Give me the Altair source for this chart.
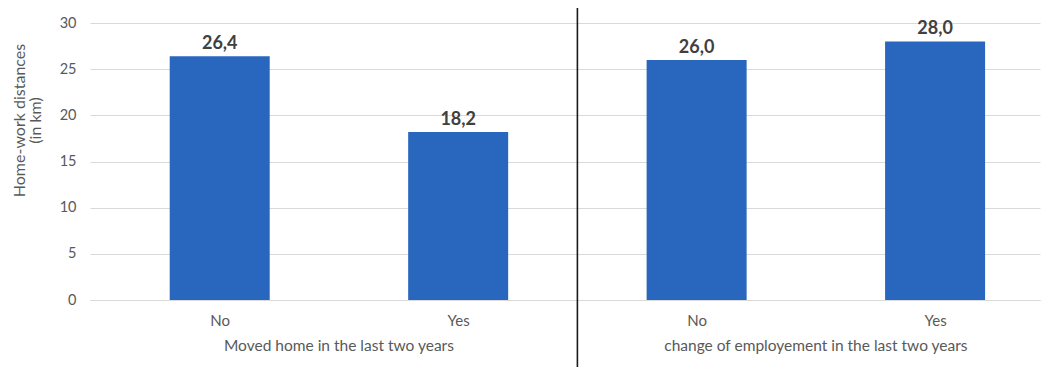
import altair as alt
import pandas as pd

# Mean home-work distance (km) by group and answer
groups = ["Moved home in the last two years", "Moved home in the last two years",
          "change of employement in the last two years", "change of employement in the last two years"]
answers = ["No", "Yes", "No", "Yes"]
slots = [0, 1, 2, 3]
distances = [26.4, 18.2, 26.0, 28.0]

group_names = ["Moved home in the last two years", "change of employement in the last two years"]
group_centers = [0.5, 2.5]
divider_at = [1.5]

df = pd.DataFrame({"slot": slots, "answer": answers, "group": groups, "dist": distances})
df["label"] = df["dist"].map(lambda v: f"{v:.1f}".replace(".", ","))
group_df = pd.DataFrame({"pos": group_centers, "group": group_names})
div_df = pd.DataFrame({"pos": divider_at})

W, H = 950, 277
FONT = "Lato"
GREY = "#595959"
BLUE = "#2966BE"

x_scale = alt.Scale(domain=[-0.523, 3.419], nice=False, zero=False)

x_enc = alt.X(
    "slot:Q", scale=x_scale, title=None,
    axis=alt.Axis(values=slots, labelExpr="['No','Yes','No','Yes'][datum.value]",
                  labelAngle=0, ticks=False, grid=False,
                  domainColor="#D9D9D9", labelPadding=13, labelFontSize=15,
                  labelColor=GREY, labelFont=FONT, labelFlush=False),
)
y_enc = alt.Y(
    "dist:Q", scale=alt.Scale(domain=[0, 30], nice=False),
    title=["Home-work distances", "(in km)"],
    axis=alt.Axis(values=[0, 5, 10, 15, 20, 25, 30], domain=False, ticks=False,
                  gridColor="#D9D9D9", labelPadding=14, labelFontSize=14.5,
                  labelColor=GREY, labelFont=FONT, titleFont=FONT, titleFontSize=16,
                  titleColor=GREY, titleFontWeight="normal", titlePadding=16,
                  titleLineHeight=16, titleY=97),
)

base = alt.Chart(df)

bars = base.mark_bar(color=BLUE, size=100).encode(x=x_enc, y=y_enc)

values = base.mark_text(dy=-12, fontSize=18, fontWeight="bold", color="#404040", font=FONT).encode(
    x=alt.X("slot:Q", scale=x_scale),
    y=alt.Y("dist:Q"),
    text="label:N",
)

group_titles = alt.Chart(group_df).mark_text(fontSize=15.5, color=GREY, font=FONT, baseline="middle").encode(
    x=alt.X("pos:Q", scale=x_scale),
    y=alt.value(H + 46),
    text="group:N",
)

separator = alt.Chart(div_df).mark_rule(color="#1a1a1a", strokeWidth=1.6).encode(
    x=alt.X("pos:Q", scale=x_scale),
    y=alt.value(-15),
    y2=alt.value(H + 67),
)

chart = alt.layer(bars, values, group_titles, separator).properties(
    width=W, height=H,
    autosize=alt.AutoSizeParams(type="none"),
    padding={"left": 90, "top": 23, "right": 16, "bottom": 67},
).configure(background="white", view=alt.ViewConfig(stroke=None))

chart.save("out.html", embed_options={"renderer": "svg", "actions": False})
